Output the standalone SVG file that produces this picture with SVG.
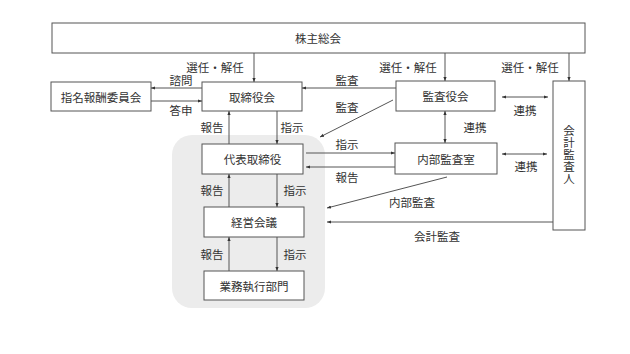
<svg xmlns="http://www.w3.org/2000/svg" width="630" height="354" viewBox="0 0 630 354">
<defs>
<marker id="ah" viewBox="0 0 10 10" refX="10" refY="5" markerWidth="4" markerHeight="4" orient="auto-start-reverse" markerUnits="userSpaceOnUse">
<path d="M0,1 L10,5 L0,9 z" fill="#333"/>
</marker>
</defs>
<style>
.box{fill:#fff;stroke:#555;stroke-width:1}
.t{font-family:"Noto Sans CJK JP","Noto Sans",sans-serif;font-size:11.5px;fill:#333;text-anchor:middle;dominant-baseline:central}
.v{writing-mode:vertical-rl;letter-spacing:0.5px}
.c line{stroke:#555;stroke-width:1;marker-end:url(#ah)}
.c line.bi{marker-start:url(#ah)}
</style>
<rect width="630" height="354" fill="#fff"/>
<rect x="172" y="135" width="153" height="173" rx="20" fill="#ececec"/>
<g id="shareholders"><rect class="box" x="52" y="23" width="533" height="30"/><text class="t" x="318" y="38">株主総会</text></g>
<g id="nomination"><rect class="box" x="51" y="82" width="100" height="29"/><text class="t" x="101" y="96.5">指名報酬委員会</text></g>
<g id="board"><rect class="box" x="202" y="82" width="100" height="29"/><text class="t" x="252" y="96.5">取締役会</text></g>
<g id="auditboard"><rect class="box" x="396" y="81" width="99" height="30"/><text class="t" x="445.5" y="96">監査役会</text></g>
<g id="auditor"><rect class="box" x="553" y="81" width="32" height="149"/>
<text class="t v" x="569" y="155">会計監査人</text></g>
<g id="ceo"><rect class="box" x="202" y="144" width="101" height="30"/><text class="t" x="252.5" y="159">代表取締役</text></g>
<g id="internal"><rect class="box" x="395" y="143" width="102" height="31"/><text class="t" x="446" y="158.5">内部監査室</text></g>
<g id="mgmt"><rect class="box" x="204" y="207" width="100" height="30"/><text class="t" x="254" y="222">経営会議</text></g>
<g id="exec"><rect class="box" x="204" y="271" width="100" height="29"/><text class="t" x="254" y="285.5">業務執行部門</text></g>
<g class="c" id="connectors">
<line x1="254" y1="53" x2="254" y2="82"/>
<line x1="445" y1="53" x2="445" y2="81"/>
<line x1="569" y1="53" x2="569" y2="81"/>
<line x1="202" y1="88" x2="151" y2="88"/>
<line x1="151" y1="101" x2="202" y2="101"/>
<line x1="396" y1="88" x2="302" y2="88"/>
<line x1="393" y1="100" x2="320" y2="137"/>
<line class="bi" x1="502" y1="97" x2="548" y2="97"/>
<line class="bi" x1="445" y1="111" x2="445" y2="143"/>
<line class="bi" x1="502" y1="154" x2="547" y2="154"/>
<line x1="229" y1="144" x2="229" y2="111"/>
<line x1="277" y1="111" x2="277" y2="144"/>
<line x1="306" y1="153" x2="395" y2="153"/>
<line x1="395" y1="167" x2="306" y2="167"/>
<line x1="447" y1="177" x2="327" y2="208"/>
<line x1="553" y1="222" x2="327" y2="222"/>
<line x1="229" y1="207" x2="229" y2="174"/>
<line x1="277" y1="174" x2="277" y2="207"/>
<line x1="229" y1="271" x2="229" y2="237"/>
<line x1="277" y1="237" x2="277" y2="271"/>
</g>
<g id="labels">
<text class="t" x="215" y="67">選任・解任</text>
<text class="t" x="408" y="67">選任・解任</text>
<text class="t" x="530" y="67">選任・解任</text>
<text class="t" x="181" y="80">諮問</text>
<text class="t" x="181" y="110">答申</text>
<text class="t" x="347" y="80">監査</text>
<text class="t" x="347" y="107">監査</text>
<text class="t" x="525" y="110">連携</text>
<text class="t" x="475" y="127">連携</text>
<text class="t" x="526" y="166">連携</text>
<text class="t" x="212" y="127">報告</text>
<text class="t" x="292" y="127">指示</text>
<text class="t" x="347" y="144">指示</text>
<text class="t" x="347" y="177">報告</text>
<text class="t" x="412" y="202">内部監査</text>
<text class="t" x="437" y="236">会計監査</text>
<text class="t" x="212" y="190">報告</text>
<text class="t" x="295" y="190">指示</text>
<text class="t" x="212" y="254">報告</text>
<text class="t" x="295" y="254">指示</text>
</g>
</svg>
